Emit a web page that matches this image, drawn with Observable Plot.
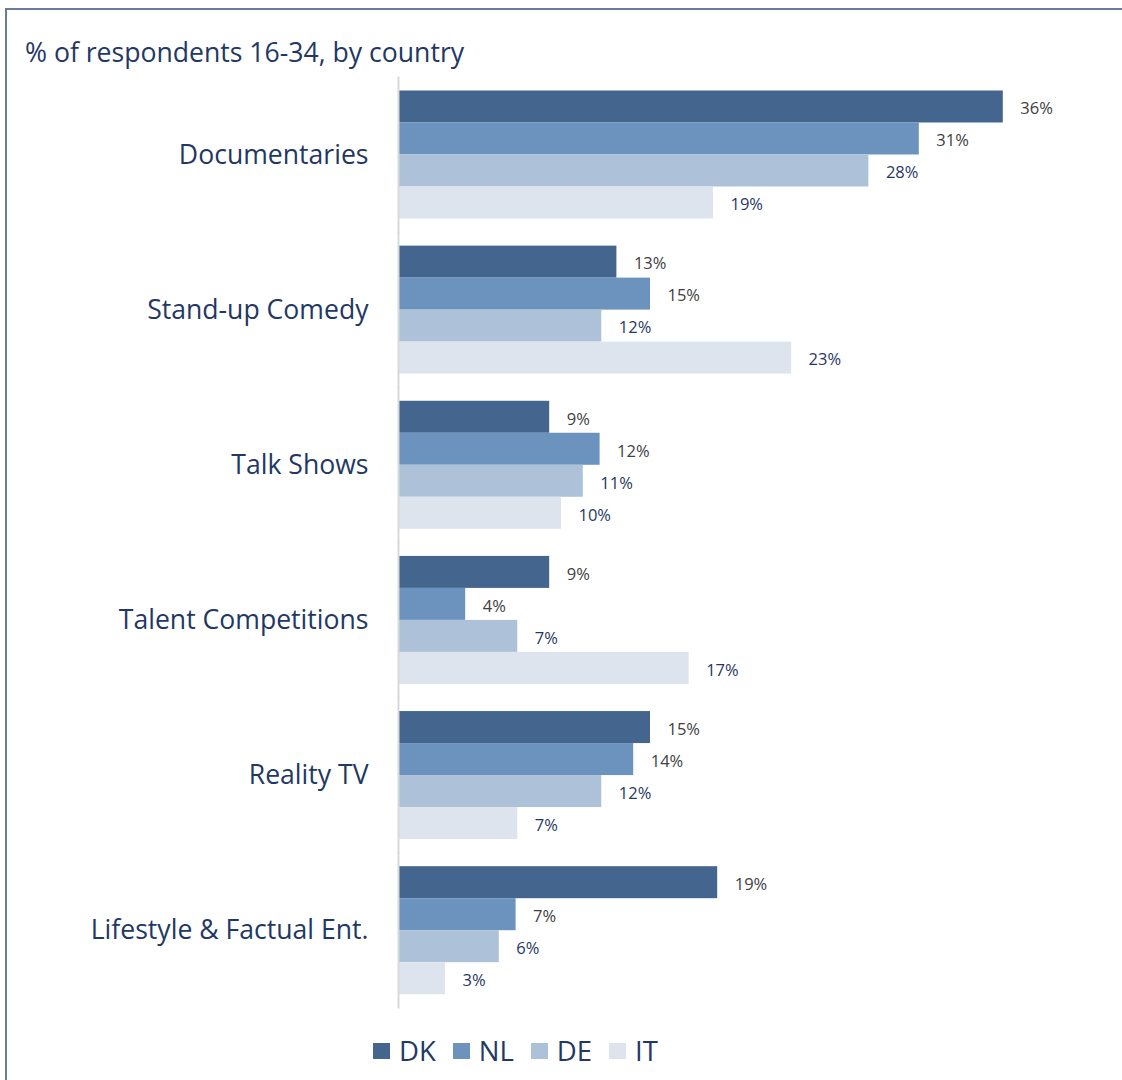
<!DOCTYPE html>
<html>
<head>
<meta charset="utf-8">
<script src="https://cdn.jsdelivr.net/npm/d3@7"></script>
<script src="https://cdn.jsdelivr.net/npm/@observablehq/plot@0.6"></script>
<style>
  html, body { margin: 0; padding: 0; background: #ffffff; }
  body { width: 1122px; height: 1080px; position: relative; overflow: hidden; font-family: "Open Sans", sans-serif; }
  #frame { position: absolute; left: 5px; top: 8px; right: -10px; bottom: -10px; border-left: 2px solid #6b7b9b; border-top: 2px solid #6b7b9b; }
  #title { position: absolute; left: 25px; top: 34px; font-size: 26.6px; color: #1f3864; white-space: nowrap; }
  #chart { position: absolute; left: 0; top: 69px; }
  #legend { position: absolute; left: 373px; top: 1032px; display: flex; align-items: center; font-size: 27.5px; color: #1f3864; }
  #legend .item { display: flex; align-items: center; margin-right: 17px; }
  #legend .sw { width: 17px; height: 16px; margin-right: 9px; }
</style>
</head>
<body>
<div id="frame"></div>
<div id="title">% of respondents 16-34, by country</div>
<div id="chart"></div>
<div id="legend"></div>
<script>
const categories = ["Documentaries", "Stand-up Comedy", "Talk Shows", "Talent Competitions", "Reality TV", "Lifestyle & Factual Ent."];
const countries = ["DK", "NL", "DE", "IT"];
const dk = [36, 13, 9, 9, 15, 19];
const nl = [31, 15, 12, 4, 14, 7];
const de = [28, 12.1, 11, 7.1, 12.1, 6];
const it = [18.75, 23.4, 9.7, 17.3, 7.1, 2.8];
const colors = ["#44668e", "#6b93bd", "#adc1d9", "#dde4ee"];
const labelColors = ["#404040", "#404040", "#1f3864", "#1f3864"];

const series = [dk, nl, de, it];
const data = [];
categories.forEach((c, i) => {
  countries.forEach((k, j) => {
    data.push({category: c, country: k, value: series[j][i], labelColor: labelColors[j]});
  });
});

const textOpts = (color) => ({
  x: "value", y: "country", fy: "category",
  text: d => Math.round(d.value) + "%",
  dx: 17, dy: 2, textAnchor: "start", fontSize: 16.5, fill: color
});

const plot = Plot.plot({
  width: 1122,
  height: 950,
  marginLeft: 398,
  marginRight: 52,
  marginTop: 9,
  marginBottom: 12,
  style: {fontFamily: "'Open Sans', sans-serif", fontSize: "26.6px", color: "#1f3864", background: "transparent", overflow: "visible"},
  x: {domain: [0, 40], axis: null},
  y: {domain: countries, axis: null, padding: 0},
  fy: {domain: categories, paddingInner: 0.16, paddingOuter: 0.074, round: false, axis: "left", label: null, tickSize: 0, tickPadding: 30},
  color: {domain: countries, range: colors},
  marks: [
    Plot.barX(data, {x: "value", y: "country", fy: "category", fill: "country"}),
    Plot.ruleX([0], {stroke: "#d9d9d9", strokeWidth: 2, insetTop: -13, insetBottom: -13}),
    Plot.text(data.filter(d => d.labelColor === labelColors[0]), textOpts(labelColors[0])),
    Plot.text(data.filter(d => d.labelColor === labelColors[2]), textOpts(labelColors[2]))
  ]
});
document.getElementById("chart").appendChild(plot);

const legend = document.getElementById("legend");
countries.forEach((k, j) => {
  const item = document.createElement("div");
  item.className = "item";
  const sw = document.createElement("div");
  sw.className = "sw";
  sw.style.background = colors[j];
  const t = document.createElement("span");
  t.textContent = k;
  item.appendChild(sw);
  item.appendChild(t);
  legend.appendChild(item);
});
</script>
</body>
</html>
